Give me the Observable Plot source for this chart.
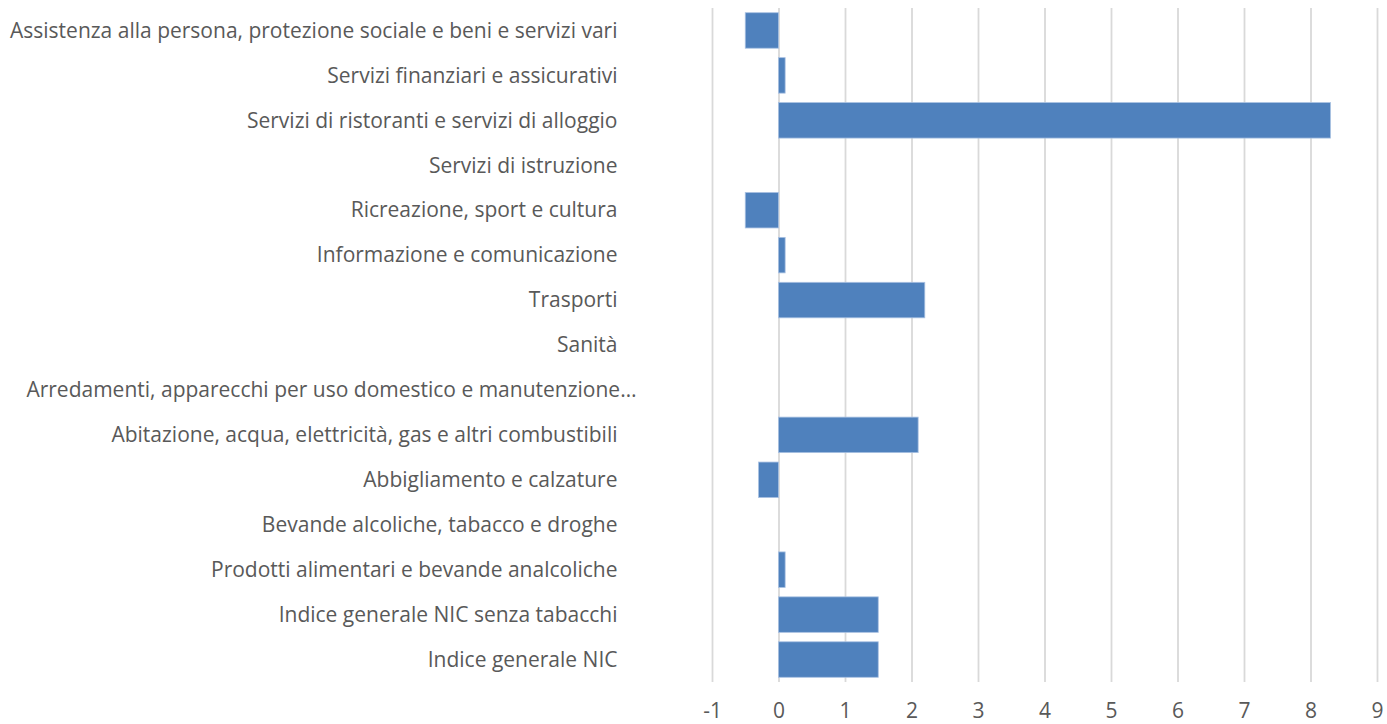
<!DOCTYPE html>
<html>
<head>
<meta charset="utf-8">
<script src="https://cdn.jsdelivr.net/npm/d3@7"></script>
<script src="https://cdn.jsdelivr.net/npm/@observablehq/plot@0.6"></script>
<style>
  html, body { margin: 0; padding: 0; background: #fff; }
  #chart svg { display: block; }
</style>
</head>
<body>
<div id="chart"></div>
<script>
const categories = [
  "Assistenza alla persona, protezione sociale e beni e servizi vari",
  "Servizi finanziari e assicurativi",
  "Servizi di ristoranti e servizi di alloggio",
  "Servizi di istruzione",
  "Ricreazione, sport e cultura",
  "Informazione e comunicazione",
  "Trasporti",
  "Sanità",
  "Arredamenti, apparecchi per uso domestico e manutenzione…",
  "Abitazione, acqua, elettricità, gas e altri combustibili",
  "Abbigliamento e calzature",
  "Bevande alcoliche, tabacco e droghe",
  "Prodotti alimentari e bevande analcoliche",
  "Indice generale NIC senza tabacchi",
  "Indice generale NIC"
];
const values = [-0.5, 0.1, 8.3, 0, -0.5, 0.1, 2.2, 0, 0, 2.1, -0.3, 0, 0.1, 1.5, 1.5];
const xTicks = [-1, 0, 1, 2, 3, 4, 5, 6, 7, 8, 9];

const data = categories.map((c, i) => ({category: c, value: values[i]}));
const longLabel = categories[8];

const chart = Plot.plot({
  width: 1387,
  height: 724,
  marginLeft: 712,
  marginRight: 10,
  marginTop: 8,
  marginBottom: 42,
  style: {fontFamily: "'Open Sans', sans-serif", fontSize: "21px", color: "#595959", background: "#fff"},
  x: {domain: [-1, 9], ticks: xTicks},
  y: {domain: categories, paddingInner: 0.21, paddingOuter: 0.105, round: false},
  marks: [
    Plot.ruleX(xTicks, {stroke: "#d9d9d9", strokeWidth: 1.8}),
    Plot.barX(data.filter(d => d.value !== 0), {x: "value", y: "category", fill: "#4f81bd", stroke: "#a9c1e2", strokeWidth: 0.8}),
    Plot.axisX({ticks: xTicks, tickSize: 0, tickPadding: 21, fontSize: 21, fill: "#595959", label: null, tickFormat: d => String(d)}),
    Plot.axisY({ticks: categories.filter(c => c !== longLabel), tickSize: 0, tickPadding: 95, fontSize: 21, fill: "#595959", label: null}),
    Plot.axisY({ticks: [longLabel], tickSize: 0, tickPadding: 76, fontSize: 21, fill: "#595959", label: null})
  ]
});
document.getElementById("chart").appendChild(chart);
</script>
</body>
</html>
